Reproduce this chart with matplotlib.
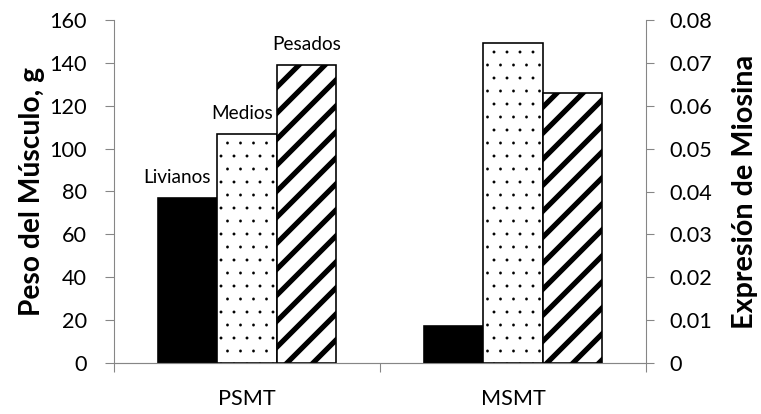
import matplotlib
matplotlib.use("Agg")
import matplotlib.pyplot as plt
import numpy as np

categories = ["PSMT", "MSMT"]
series_names = ["Livianos", "Medios", "Pesados"]
psmt_peso = [77, 107, 139]            # left axis, g
msmt_miosina = [0.0087, 0.0747, 0.0629]  # right axis
left_ticks = [0, 20, 40, 60, 80, 100, 120, 140, 160]
right_ticks = [0, 0.01, 0.02, 0.03, 0.04, 0.05, 0.06, 0.07, 0.08]
right_ticklabels = ["0", "0.01", "0.02", "0.03", "0.04", "0.05", "0.06", "0.07", "0.08"]

DPI = 78
plt.rcParams['font.family'] = ['Lato', 'DejaVu Sans']
plt.rcParams['hatch.linewidth'] = 4.8

fig = plt.figure(figsize=(761 / DPI, 414 / DPI), dpi=DPI)
ax = fig.add_axes([114 / 761, 51 / 414, 532 / 761, 343 / 414])
ax2 = ax.twinx()

w = 0.2237
offsets = [-w, 0, w]
styles = [dict(color="black", edgecolor="black", hatch=None),
          dict(color="white", edgecolor="black", hatch="."),
          dict(color="white", edgecolor="black", hatch="/")]
hlw = [0.5, 0.2, 4.8]

for i, name in enumerate(series_names):
    st = styles[i]
    b1 = ax.bar(0 + offsets[i], psmt_peso[i], width=w, color=st["color"],
                edgecolor=st["edgecolor"], hatch=st["hatch"], linewidth=1.5)
    b2 = ax2.bar(1 + offsets[i], msmt_miosina[i], width=w, color=st["color"],
                 edgecolor=st["edgecolor"], hatch=st["hatch"], linewidth=1.5)
    for p in list(b1) + list(b2):
        if hasattr(p, "set_hatch_linewidth"):
            p.set_hatch_linewidth(hlw[i])

# series labels above PSMT bars
label_dx = [-10, -5, 0]
for i, name in enumerate(series_names):
    ax.annotate(name, xy=(0 + offsets[i], psmt_peso[i]), xytext=(label_dx[i], 12),
                textcoords="offset pixels", ha="center", va="bottom", fontsize=17.5)

ax.set_xlim(-0.5, 1.5)
ax.set_ylim(0, 160)
ax2.set_ylim(0, 0.08)
ax.set_yticks(left_ticks)
ax2.set_yticks(right_ticks)
ax2.set_yticklabels(right_ticklabels)

gray = "#868686"
for a in (ax, ax2):
    a.spines["top"].set_visible(False)
    for s in ("left", "right", "bottom"):
        a.spines[s].set_color(gray)
        a.spines[s].set_linewidth(1.0)
ax.spines["right"].set_visible(False)
ax2.spines["left"].set_visible(False)

ax.set_xticks([0, 1])
ax.set_xticklabels(categories)
ax.set_xticks([-0.5, 0.5, 1.5], minor=True)
ax.tick_params(axis="x", which="major", length=0, labelsize=20, pad=24)
ax.tick_params(axis="x", which="minor", length=8, color=gray, width=1.0)
ax.tick_params(axis="y", length=8, color=gray, width=1.0, labelsize=20, pad=17)
ax2.tick_params(axis="y", length=7, color=gray, width=1.0, labelsize=20, pad=15)

ax.set_ylabel("Peso del Músculo, g", fontsize=26, fontweight="bold", labelpad=4)
ax2.set_ylabel("Expresión de Miosina", fontsize=26.5, fontweight="bold", labelpad=18)

fig.savefig("out.png", dpi=DPI)
